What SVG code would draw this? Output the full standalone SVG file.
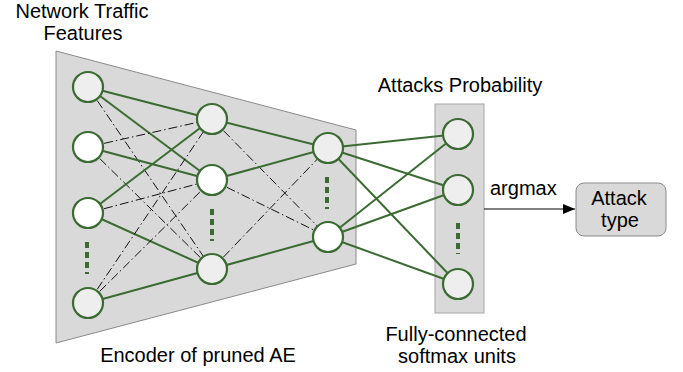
<svg xmlns="http://www.w3.org/2000/svg" width="683" height="372" viewBox="0 0 683 372">
<style>
text{font-family:"Liberation Sans",Arial,sans-serif;font-size:20px;fill:#000}
.s{stroke:#3b6b32;stroke-width:2;fill:none}
.d{stroke:#111;stroke-width:1;stroke-dasharray:9,3,1.5,3;fill:none}
.n{stroke:#3b6b32;stroke-width:2.2}
.g{fill:#eeeeee}
.w{fill:#ffffff}
.dots{stroke:#3b6b32;stroke-width:4;stroke-dasharray:6,4;fill:none}
</style>
<defs>
<marker id="ah" viewBox="0 0 12 10" refX="12" refY="5" markerWidth="12" markerHeight="10" markerUnits="userSpaceOnUse" orient="auto">
<path d="M0,0 L12,5 L0,10 Z" fill="#000"/>
</marker>
</defs>
<g id="encoder-bg">
<polygon points="56,51 356,130 356,264 56,343" fill="#d9d9d9" stroke="#8a8a8a" stroke-width="1"/>
</g>
<g id="output-bg">
<rect x="435" y="104" width="49" height="209" fill="#d9d9d9" stroke="#a6a6a6" stroke-width="1"/>
</g>
<g id="connectors">
<line class="s" x1="88" y1="87" x2="212" y2="119"/>
<line class="s" x1="88" y1="87" x2="212" y2="180"/>
<line class="d" x1="88" y1="87" x2="212" y2="269"/>
<line class="d" x1="88" y1="147" x2="212" y2="119"/>
<line class="s" x1="88" y1="147" x2="212" y2="180"/>
<line class="d" x1="88" y1="147" x2="212" y2="269"/>
<line class="s" x1="88" y1="213" x2="212" y2="119"/>
<line class="d" x1="88" y1="213" x2="212" y2="180"/>
<line class="s" x1="88" y1="213" x2="212" y2="269"/>
<line class="d" x1="88" y1="303" x2="212" y2="119"/>
<line class="d" x1="88" y1="303" x2="212" y2="180"/>
<line class="s" x1="88" y1="303" x2="212" y2="269"/>
<line class="s" x1="212" y1="119" x2="328" y2="148"/>
<line class="d" x1="212" y1="119" x2="328" y2="237"/>
<line class="s" x1="212" y1="180" x2="328" y2="148"/>
<line class="d" x1="212" y1="180" x2="328" y2="237"/>
<line class="d" x1="212" y1="269" x2="328" y2="148"/>
<line class="s" x1="212" y1="269" x2="328" y2="237"/>
<line class="s" x1="328" y1="148" x2="458" y2="134"/>
<line class="s" x1="328" y1="148" x2="458" y2="190"/>
<line class="s" x1="328" y1="148" x2="458" y2="284"/>
<line class="s" x1="328" y1="237" x2="458" y2="134"/>
<line class="s" x1="328" y1="237" x2="458" y2="190"/>
<line class="s" x1="328" y1="237" x2="458" y2="284"/>
<line x1="484" y1="209" x2="575" y2="209" stroke="#000" stroke-width="1" marker-end="url(#ah)"/>
</g>
<g id="input-nodes">
<circle class="n g" cx="88" cy="87" r="15"/>
<circle class="n w" cx="88" cy="147" r="15"/>
<circle class="n w" cx="88" cy="213" r="15"/>
<circle class="n g" cx="88" cy="303" r="15"/>
<line class="dots" x1="87" y1="242" x2="87" y2="274"/>
</g>
<g id="hidden-nodes">
<circle class="n g" cx="212" cy="119" r="15"/>
<circle class="n w" cx="212" cy="180" r="15"/>
<circle class="n g" cx="212" cy="269" r="15"/>
<line class="dots" x1="212" y1="209" x2="212" y2="241"/>
</g>
<g id="code-nodes">
<circle class="n g" cx="328" cy="148" r="15"/>
<circle class="n w" cx="328" cy="237" r="15"/>
<line class="dots" x1="327" y1="177" x2="327" y2="209"/>
</g>
<g id="output-nodes">
<circle class="n g" cx="458" cy="134" r="15"/>
<circle class="n g" cx="458" cy="190" r="15"/>
<circle class="n g" cx="458" cy="284" r="15"/>
<line class="dots" x1="458" y1="223" x2="458" y2="254"/>
</g>
<g id="attack-type">
<rect x="576" y="183" width="90" height="53" rx="8" fill="#d9d9d9" stroke="#8a8a8a" stroke-width="1"/>
<text x="619" y="205" text-anchor="middle">Attack</text>
<text x="620" y="227" text-anchor="middle">type</text>
</g>
<g id="labels">
<text x="82" y="18" text-anchor="middle">Network Traffic</text>
<text x="83" y="40" text-anchor="middle">Features</text>
<text x="460" y="92" text-anchor="middle">Attacks Probability</text>
<text x="490" y="195">argmax</text>
<text x="198" y="362" text-anchor="middle">Encoder of pruned AE</text>
<text x="456" y="341" text-anchor="middle">Fully-connected</text>
<text x="457" y="363" text-anchor="middle">softmax units</text>
</g>
</svg>
